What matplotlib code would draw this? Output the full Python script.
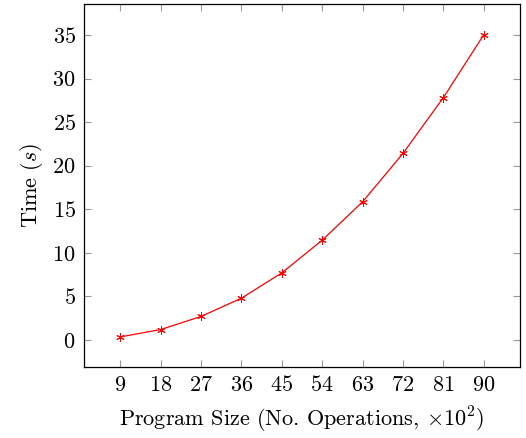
import numpy as np
import matplotlib
matplotlib.use("Agg")
import matplotlib.pyplot as plt

plt.rcParams['font.family'] = 'serif'
plt.rcParams['font.serif'] = ['cmr10', 'DejaVu Serif']
plt.rcParams['mathtext.fontset'] = 'cm'
plt.rcParams['axes.unicode_minus'] = False
plt.rcParams['axes.formatter.use_mathtext'] = True

# program size (x10^2 operations) and measured time in seconds
sizes = [9, 18, 27, 36, 45, 54, 63, 72, 81, 90]
times = [0.35, 1.2, 2.7, 4.8, 7.7, 11.45, 15.85, 21.4, 27.8, 35.0]
yticks = [0, 5, 10, 15, 20, 25, 30, 35]

fig = plt.figure(figsize=(5.26, 4.38), dpi=100)
ax = fig.add_axes([0.1597, 0.1621, 0.8289, 0.8288])

ax.plot(sizes, times, color='red', linewidth=0.9,
        marker=(6, 2, 0), markersize=6, markeredgewidth=0.7)

ax.set_xlim(0.9, 98.1)
ax.set_ylim(-3.1, 38.55)
ax.set_xticks(sizes)
ax.set_yticks(yticks)

ax.tick_params(direction='in', top=True, right=True, length=5,
               width=0.8, color='#999999', labelsize=16, pad=6)
for s in ax.spines.values():
    s.set_linewidth(0.9)

ax.set_xlabel(r'Program Size (No. Operations, $\times10^2$)', fontsize=16, labelpad=7)
ax.set_ylabel(r'Time ($s$)', fontsize=16, labelpad=5)

fig.savefig('out.png', dpi=100)
